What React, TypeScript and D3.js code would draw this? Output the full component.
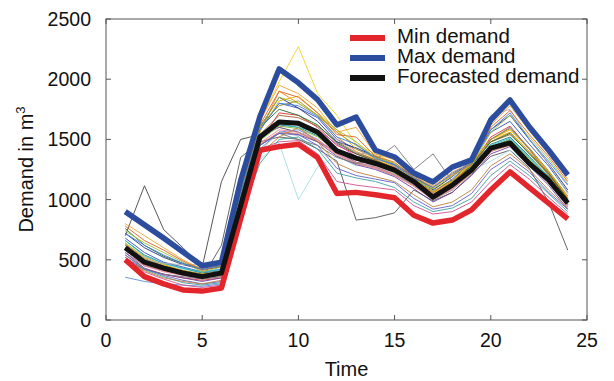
import React from "react";
import * as d3 from "d3";

// hours 1..24
const hours = [1, 2, 3, 4, 5, 6, 7, 8, 9, 10, 11, 12, 13, 14, 15, 16, 17, 18, 19, 20, 21, 22, 23, 24];

const minDemand = [500, 360, 300, 250, 240, 265, 840, 1410, 1440, 1460, 1350, 1050, 1060, 1040, 1015, 870, 805, 830, 915, 1080, 1230, 1100, 970, 840];
const maxDemand = [900, 790, 680, 565, 450, 480, 1160, 1690, 2085, 1970, 1830, 1620, 1686, 1410, 1354, 1220, 1147, 1270, 1330, 1661, 1827, 1605, 1412, 1204];
const forecast = [600, 480, 430, 390, 360, 390, 950, 1520, 1645, 1635, 1560, 1405, 1345, 1300, 1245, 1150, 1020, 1120, 1245, 1428, 1470, 1300, 1163, 970];

// daily demand curves (thin lines)
const days = [
  [620, 500, 440, 400, 370, 400, 980, 1650, 1980, 2270, 1880, 1700, 1460, 1380, 1300, 1210, 1090, 1160, 1290, 1500, 1560, 1380, 1200, 1000],
  [700, 1115, 750, 600, 440, 1150, 1500, 1540, 1600, 1560, 1480, 1400, 1310, 1270, 1210, 1120, 1020, 1130, 1260, 1420, 1470, 1310, 1160, 960],
  [560, 450, 410, 380, 350, 620, 1350, 1480, 1520, 1500, 1420, 1320, 830, 850, 890, 1080, 990, 1060, 1210, 1360, 1410, 1260, 980, 580],
  [640, 520, 460, 420, 390, 430, 900, 1330, 1470, 1000, 1270, 1360, 1280, 1290, 1210, 1110, 1010, 1090, 1240, 1320, 1410, 1300, 1140, 940],
  [355, 320, 300, 290, 280, 300, 880, 1420, 1560, 1580, 1500, 1380, 1300, 1260, 1200, 1120, 1000, 1080, 1230, 1400, 1460, 1310, 1150, 950],
  [580, 470, 420, 380, 350, 380, 920, 1560, 1900, 1800, 1700, 1520, 1400, 1330, 1260, 1170, 1050, 1140, 1300, 1480, 1560, 1400, 1220, 1010],
  [620, 500, 440, 390, 360, 380, 960, 1500, 1650, 1620, 1540, 1400, 1330, 1290, 1230, 1130, 1030, 1110, 1250, 1440, 1500, 1340, 1180, 980],
  [540, 430, 380, 350, 330, 350, 900, 1480, 1720, 1700, 1600, 1450, 1380, 1320, 1270, 1160, 1060, 1150, 1280, 1520, 1610, 1420, 1230, 1010],
  [600, 480, 430, 400, 370, 390, 1000, 1530, 1600, 1640, 1580, 1460, 1360, 1310, 1240, 1140, 1020, 1100, 1240, 1420, 1470, 1320, 1170, 960],
  [680, 560, 480, 440, 400, 420, 1020, 1580, 1800, 1760, 1680, 1500, 1420, 1350, 1280, 1180, 1060, 1170, 1320, 1560, 1650, 1460, 1280, 1060],
  [520, 420, 380, 350, 320, 350, 870, 1450, 1560, 1540, 1480, 1360, 1290, 1250, 1190, 1090, 980, 1060, 1200, 1380, 1440, 1280, 1120, 920],
  [660, 540, 470, 430, 390, 410, 950, 1500, 1620, 1600, 1530, 1420, 1350, 1300, 1240, 1150, 1040, 1130, 1270, 1460, 1520, 1360, 1190, 990],
  [600, 490, 450, 410, 380, 400, 990, 1620, 1780, 1820, 1700, 1560, 1450, 1360, 1290, 1190, 1070, 1160, 1310, 1500, 1590, 1430, 1240, 1030],
  [560, 450, 400, 370, 340, 360, 930, 1470, 1580, 1560, 1500, 1380, 1310, 1270, 1210, 1120, 1010, 1090, 1220, 1400, 1460, 1300, 1150, 950],
  [630, 510, 450, 410, 380, 400, 960, 1540, 1700, 1680, 1610, 1480, 1390, 1330, 1260, 1160, 1040, 1140, 1290, 1480, 1540, 1390, 1210, 1000],
  [590, 470, 420, 380, 350, 370, 920, 1490, 1610, 1590, 1520, 1400, 1330, 1290, 1220, 1130, 1020, 1100, 1240, 1430, 1490, 1330, 1170, 970],
  [720, 600, 520, 460, 420, 440, 1040, 1600, 1850, 1760, 1650, 1480, 1430, 1360, 1290, 1200, 1080, 1190, 1330, 1580, 1700, 1500, 1300, 1080],
  [660, 530, 470, 430, 400, 420, 960, 1510, 1630, 1600, 1560, 1420, 1350, 1310, 1240, 1140, 1030, 1120, 1260, 1450, 1510, 1350, 1190, 980],
  [580, 460, 410, 380, 350, 370, 900, 1460, 1560, 1550, 1490, 1370, 1300, 1260, 1200, 1110, 1000, 1080, 1220, 1400, 1450, 1300, 1140, 940],
  [640, 520, 460, 410, 380, 400, 970, 1570, 1820, 1860, 1720, 1580, 1420, 1340, 1270, 1170, 1060, 1150, 1300, 1500, 1580, 1420, 1230, 1020],
  [600, 500, 470, 460, 460, 470, 1100, 1400, 1560, 1530, 1600, 1500, 1390, 1370, 1280, 1220, 1110, 1200, 1360, 1700, 1750, 1500, 1300, 1050],
  [760, 620, 530, 470, 430, 450, 1050, 1600, 1750, 1700, 1620, 1470, 1380, 1320, 1260, 1150, 1040, 1130, 1280, 1480, 1550, 1380, 1220, 1000],
  [500, 420, 380, 360, 340, 360, 880, 1450, 1550, 1500, 1450, 1350, 1300, 1330, 1450, 1250, 1380, 1150, 1250, 1500, 1600, 1420, 1200, 980],
  [520, 400, 340, 290, 270, 290, 870, 1420, 1480, 1490, 1380, 1150, 1120, 1100, 1080, 950, 880, 900, 980, 1150, 1290, 1170, 1020, 880],
  [540, 420, 360, 310, 290, 310, 880, 1300, 1500, 1520, 1420, 1220, 1180, 1150, 1100, 980, 900, 930, 1010, 1200, 1320, 1200, 1050, 900],
  [560, 430, 370, 330, 300, 320, 900, 1450, 1550, 1540, 1450, 1260, 1200, 1170, 1140, 1010, 920, 950, 1050, 1250, 1350, 1230, 1060, 920],
  [500, 410, 350, 320, 300, 330, 860, 1380, 1520, 1600, 1480, 1300, 1230, 1190, 1150, 1040, 940, 980, 1080, 1280, 1380, 1250, 1080, 930],
  [800, 700, 600, 500, 420, 460, 1100, 1650, 1950, 1880, 1760, 1560, 1600, 1380, 1330, 1190, 1110, 1230, 1300, 1620, 1780, 1570, 1380, 1170],
  [780, 660, 580, 490, 410, 450, 1080, 1620, 1900, 1850, 1720, 1540, 1520, 1360, 1310, 1180, 1100, 1210, 1290, 1600, 1740, 1540, 1360, 1150],
  [740, 640, 560, 480, 400, 440, 1050, 1600, 1850, 1800, 1700, 1580, 1480, 1350, 1300, 1170, 1090, 1200, 1280, 1560, 1700, 1520, 1340, 1130],
  [720, 620, 540, 470, 420, 450, 1060, 1580, 1800, 1780, 1690, 1520, 1460, 1340, 1290, 1180, 1100, 1220, 1300, 1580, 1720, 1500, 1320, 1120],
];

const dayColors = [
  "#f0d020", "#444444", "#555555", "#a8dde0", "#5a8fd8", "#f08a10", "#2f9a3a", "#e03030",
  "#c040c0", "#3050c0", "#7040a0", "#208080", "#909020", "#f080a0", "#a06030", "#80c040",
  "#203080", "#30c0d0", "#f09070", "#e0b000", "#b0b0b0", "#1f6f2f", "#777777", "#d05090",
  "#40a0a0", "#6060d0", "#c08040", "#f0a030", "#e06020", "#a0c030", "#4080e0",
];

const xTicks = [0, 5, 10, 15, 20, 25];
const yTicks = [0, 500, 1000, 1500, 2000, 2500];

const legendItems = [
  { label: "Min demand", color: "#e3262b" },
  { label: "Max demand", color: "#2c4d9e" },
  { label: "Forecasted demand", color: "#111111" },
];

const W = 614, H = 381;
const margin = { top: 19, right: 27, bottom: 61, left: 106 };

export default function App() {
  const x = d3.scaleLinear().domain([0, 25]).range([margin.left, W - margin.right]);
  const y = d3.scaleLinear().domain([0, 2500]).range([H - margin.bottom, margin.top]);
  const line = d3.line<number>().x((_, i) => x(hours[i])).y(d => y(d));
  const font = "'Liberation Sans', Arial, sans-serif";
  const x0 = x(0), x1 = x(25), y0 = y(0), y1 = y(2500);

  return (
    <svg width={W} height={H} style={{ position: "absolute", left: 0, top: 0, background: "#fff" }}>
      <g fill="none" strokeLinejoin="round">
        {days.map((d, i) => (
          <path key={i} d={line(d) || ""} stroke={dayColors[i % dayColors.length]} strokeWidth={0.9} />
        ))}
        <path d={line(minDemand) || ""} stroke={legendItems[0].color} strokeWidth={5.5} />
        <path d={line(maxDemand) || ""} stroke={legendItems[1].color} strokeWidth={5.5} />
        <path d={line(forecast) || ""} stroke={legendItems[2].color} strokeWidth={5} />
      </g>

      {/* frame */}
      <rect x={x0} y={y1} width={x1 - x0} height={y0 - y1} fill="none" stroke="#555" strokeWidth={1} />
      <g stroke="#555" strokeWidth={1}>
        {xTicks.map(t => (
          <g key={t}>
            <line x1={x(t)} x2={x(t)} y1={y0} y2={y0 - 5} />
            <line x1={x(t)} x2={x(t)} y1={y1} y2={y1 + 5} />
          </g>
        ))}
        {yTicks.map(t => (
          <g key={t}>
            <line x1={x0} x2={x0 + 5} y1={y(t)} y2={y(t)} />
            <line x1={x1} x2={x1 - 5} y1={y(t)} y2={y(t)} />
          </g>
        ))}
      </g>

      <g fontFamily={font} fontSize={19.5} fill="#111">
        {xTicks.map(t => (
          <text key={t} x={x(t)} y={y0 + 27} textAnchor="middle">{t}</text>
        ))}
        {yTicks.map(t => (
          <text key={t} x={x0 - 15} y={y(t) + 7} textAnchor="end">{t}</text>
        ))}
        <text x={(x0 + x1) / 2} y={376} textAnchor="middle" fontSize={20}>Time</text>
        <text transform={`translate(33,${(y0 + y1) / 2}) rotate(-90)`} textAnchor="middle" fontSize={20}>
          Demand in m<tspan dy={-8} fontSize={13}>3</tspan>
        </text>
      </g>

      <g fontFamily={font} fontSize={20.5} fill="#111">
        {legendItems.map((it, i) => (
          <g key={it.label} transform={`translate(350,${38 + i * 20})`}>
            <line x1={0} x2={35} y1={0} y2={0} stroke={it.color} strokeWidth={6} />
            <text x={47} y={5}>{it.label}</text>
          </g>
        ))}
      </g>
    </svg>
  );
}
